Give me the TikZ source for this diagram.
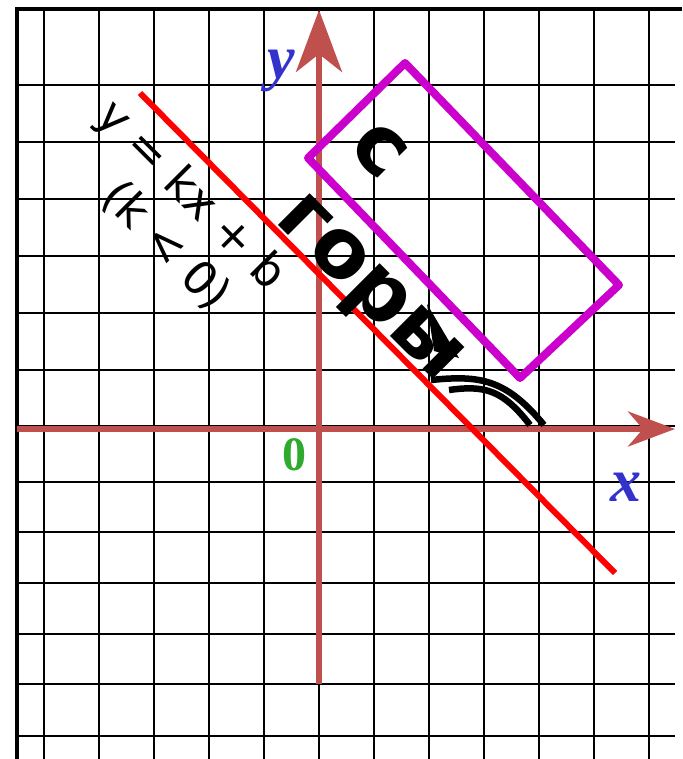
\documentclass[tikz,border=0pt]{standalone}
\usepackage{fontspec}
\setmainfont{DejaVu Sans}
\newfontfamily\axisfont{Liberation Serif}
\usetikzlibrary{arrows.meta}
\definecolor{axisred}{HTML}{C0504D}
\definecolor{labelblue}{HTML}{3333CC}
\definecolor{zerogreen}{HTML}{2EAA2E}
\definecolor{boxmagenta}{HTML}{CC00CC}

\begin{document}
\begin{tikzpicture}[x=1pt, y=-1pt,
    gridline/.style={black, line width=2pt},
    axisline/.style={axisred, line width=6pt},
    axislabel/.style={text=labelblue, font=\axisfont\bfseries\itshape\fontsize{62}{62}\selectfont},
    slanttext/.style={rotate=-45, inner sep=0pt},
    runner/.style={line width=6.5pt}]
  \useasboundingbox (0,0) rectangle (682,759);
  % grid
  \foreach \gx in {44,99,...,649}
    \draw[gridline] (\gx,10) -- (\gx,759);
  \foreach \gy in {85,142,199,256,313,370,426,482,532,583,634,684,736}
    \draw[gridline] (17,\gy) -- (675,\gy);
  \draw[black, line width=4pt] (17,759) -- (17,9) -- (682,9);

  % axes
  \coordinate (xstart) at (17,429);
  \coordinate (xend) at (675,429);
  \coordinate (ystart) at (319,684);
  \coordinate (yend) at (319,10);
  \draw[axisline, -{Stealth[length=47pt, width=35pt, inset=15pt]}] (xstart) -- (xend);
  \draw[axisline, -{Stealth[length=62pt, width=46pt, inset=18pt]}] (ystart) -- (yend);
  \node[axislabel] (ylabel) at (281,71) {y};
  \node[axislabel] (xlabel) at (626,487) {x};
  \node[text=zerogreen, font=\axisfont\bfseries\fontsize{48}{48}\selectfont] (zero) at (294,455) {0};

  % the line y = kx + b
  \coordinate (lineA) at (140,93);
  \coordinate (lineB) at (615,573);
  \draw[red, line width=6pt] (lineA) -- (lineB);
  \node[slanttext, font=\fontsize{46}{46}\selectfont] (eqn) at (190,196) {y = kx + b};
  \node[slanttext, font=\fontsize{46}{46}\selectfont] (cond) at (166,246) {(k < 0)};

  % sign and sled
  \draw[boxmagenta, line width=8pt, line join=round] (308,158) -- (405,63) -- (619,285) -- (520,378) -- cycle;
  \node[slanttext, font=\bfseries\fontsize{82}{82}\selectfont] (word1) at (380,150) {с};
  \node[slanttext, font=\bfseries\fontsize{82}{82}\selectfont] (word2) at (366,292) {горы};
  \fill (427,304) -- (459,358) -- (434,351) -- cycle;
  \draw[runner] (431,380) .. controls (480,375) and (506,379) .. (544,425);
  \draw[runner] (449,390) .. controls (485,385) and (503,390) .. (530,425);
\end{tikzpicture}
\end{document}
